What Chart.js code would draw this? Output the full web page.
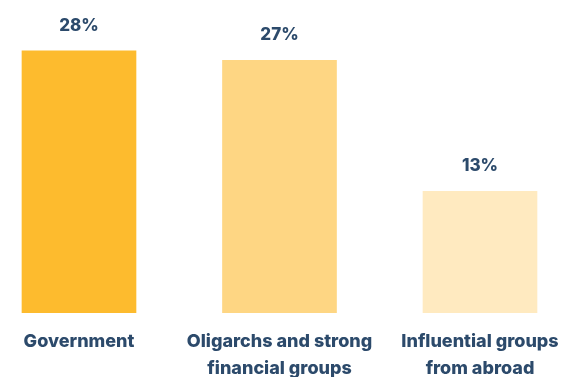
<!DOCTYPE html>
<html>
<head>
<meta charset="utf-8">
<script src="https://cdn.jsdelivr.net/npm/chart.js@4/dist/chart.umd.min.js"></script>
<style>
  html, body { margin: 0; padding: 0; background: #ffffff; }
  #wrap { position: relative; width: 563px; height: 377px; }
</style>
</head>
<body>
<div id="wrap"><canvas id="chart"></canvas></div>
<script>
// Who has the most influence — share of respondents
const categories = [
  ['Government'],
  ['Oligarchs and strong', 'financial groups'],
  ['Influential groups', 'from abroad']
];
const shares = [28, 27, 13];
const barColors = ['#FDBB2E', '#FED683', '#FFEAC0'];

const textColor = '#2C4A6B';
const fontFamily = 'Inter, "Noto Sans", sans-serif';

// Writes the percentage above each bar
const valueLabels = {
  id: 'valueLabels',
  afterDatasetsDraw(chart) {
    const ctx = chart.ctx;
    const meta = chart.getDatasetMeta(0);
    ctx.save();
    ctx.font = '800 17px ' + fontFamily;
    ctx.fillStyle = textColor;
    ctx.textAlign = 'center';
    ctx.textBaseline = 'alphabetic';
    meta.data.forEach((bar, i) => {
      ctx.fillText(shares[i] + '%', bar.x, bar.y - 20);
    });
    ctx.restore();
  }
};

new Chart(document.getElementById('chart'), {
  type: 'bar',
  data: {
    datasets: [{
      data: shares.map((v, i) => ({ x: i, y: v })),
      backgroundColor: barColors,
      borderWidth: 0,
      barThickness: 114
    }]
  },
  options: {
    responsive: true,
    maintainAspectRatio: false,
    animation: false,
    layout: { padding: 0 },
    plugins: {
      legend: { display: false },
      tooltip: { enabled: false }
    },
    scales: {
      x: {
        type: 'linear',
        offset: false,
        min: -0.394,
        max: 2.414,
        afterBuildTicks(scale) {
          scale.ticks = categories.map((_, i) => ({ value: i }));
        },
        afterFit(scale) {
          scale.height = 64;
          scale.paddingLeft = 0;
          scale.paddingRight = 0;
        },
        grid: { display: false, drawTicks: false },
        border: { display: false },
        ticks: {
          autoSkip: false,
          maxRotation: 0,
          padding: 15,
          color: textColor,
          font: { family: fontFamily, size: 18, weight: '800', lineHeight: 1.5 },
          callback: (value) => categories[value]
        }
      },
      y: {
        display: false,
        min: 0,
        max: 33.44
      }
    }
  },
  plugins: [valueLabels]
});
</script>
</body>
</html>
